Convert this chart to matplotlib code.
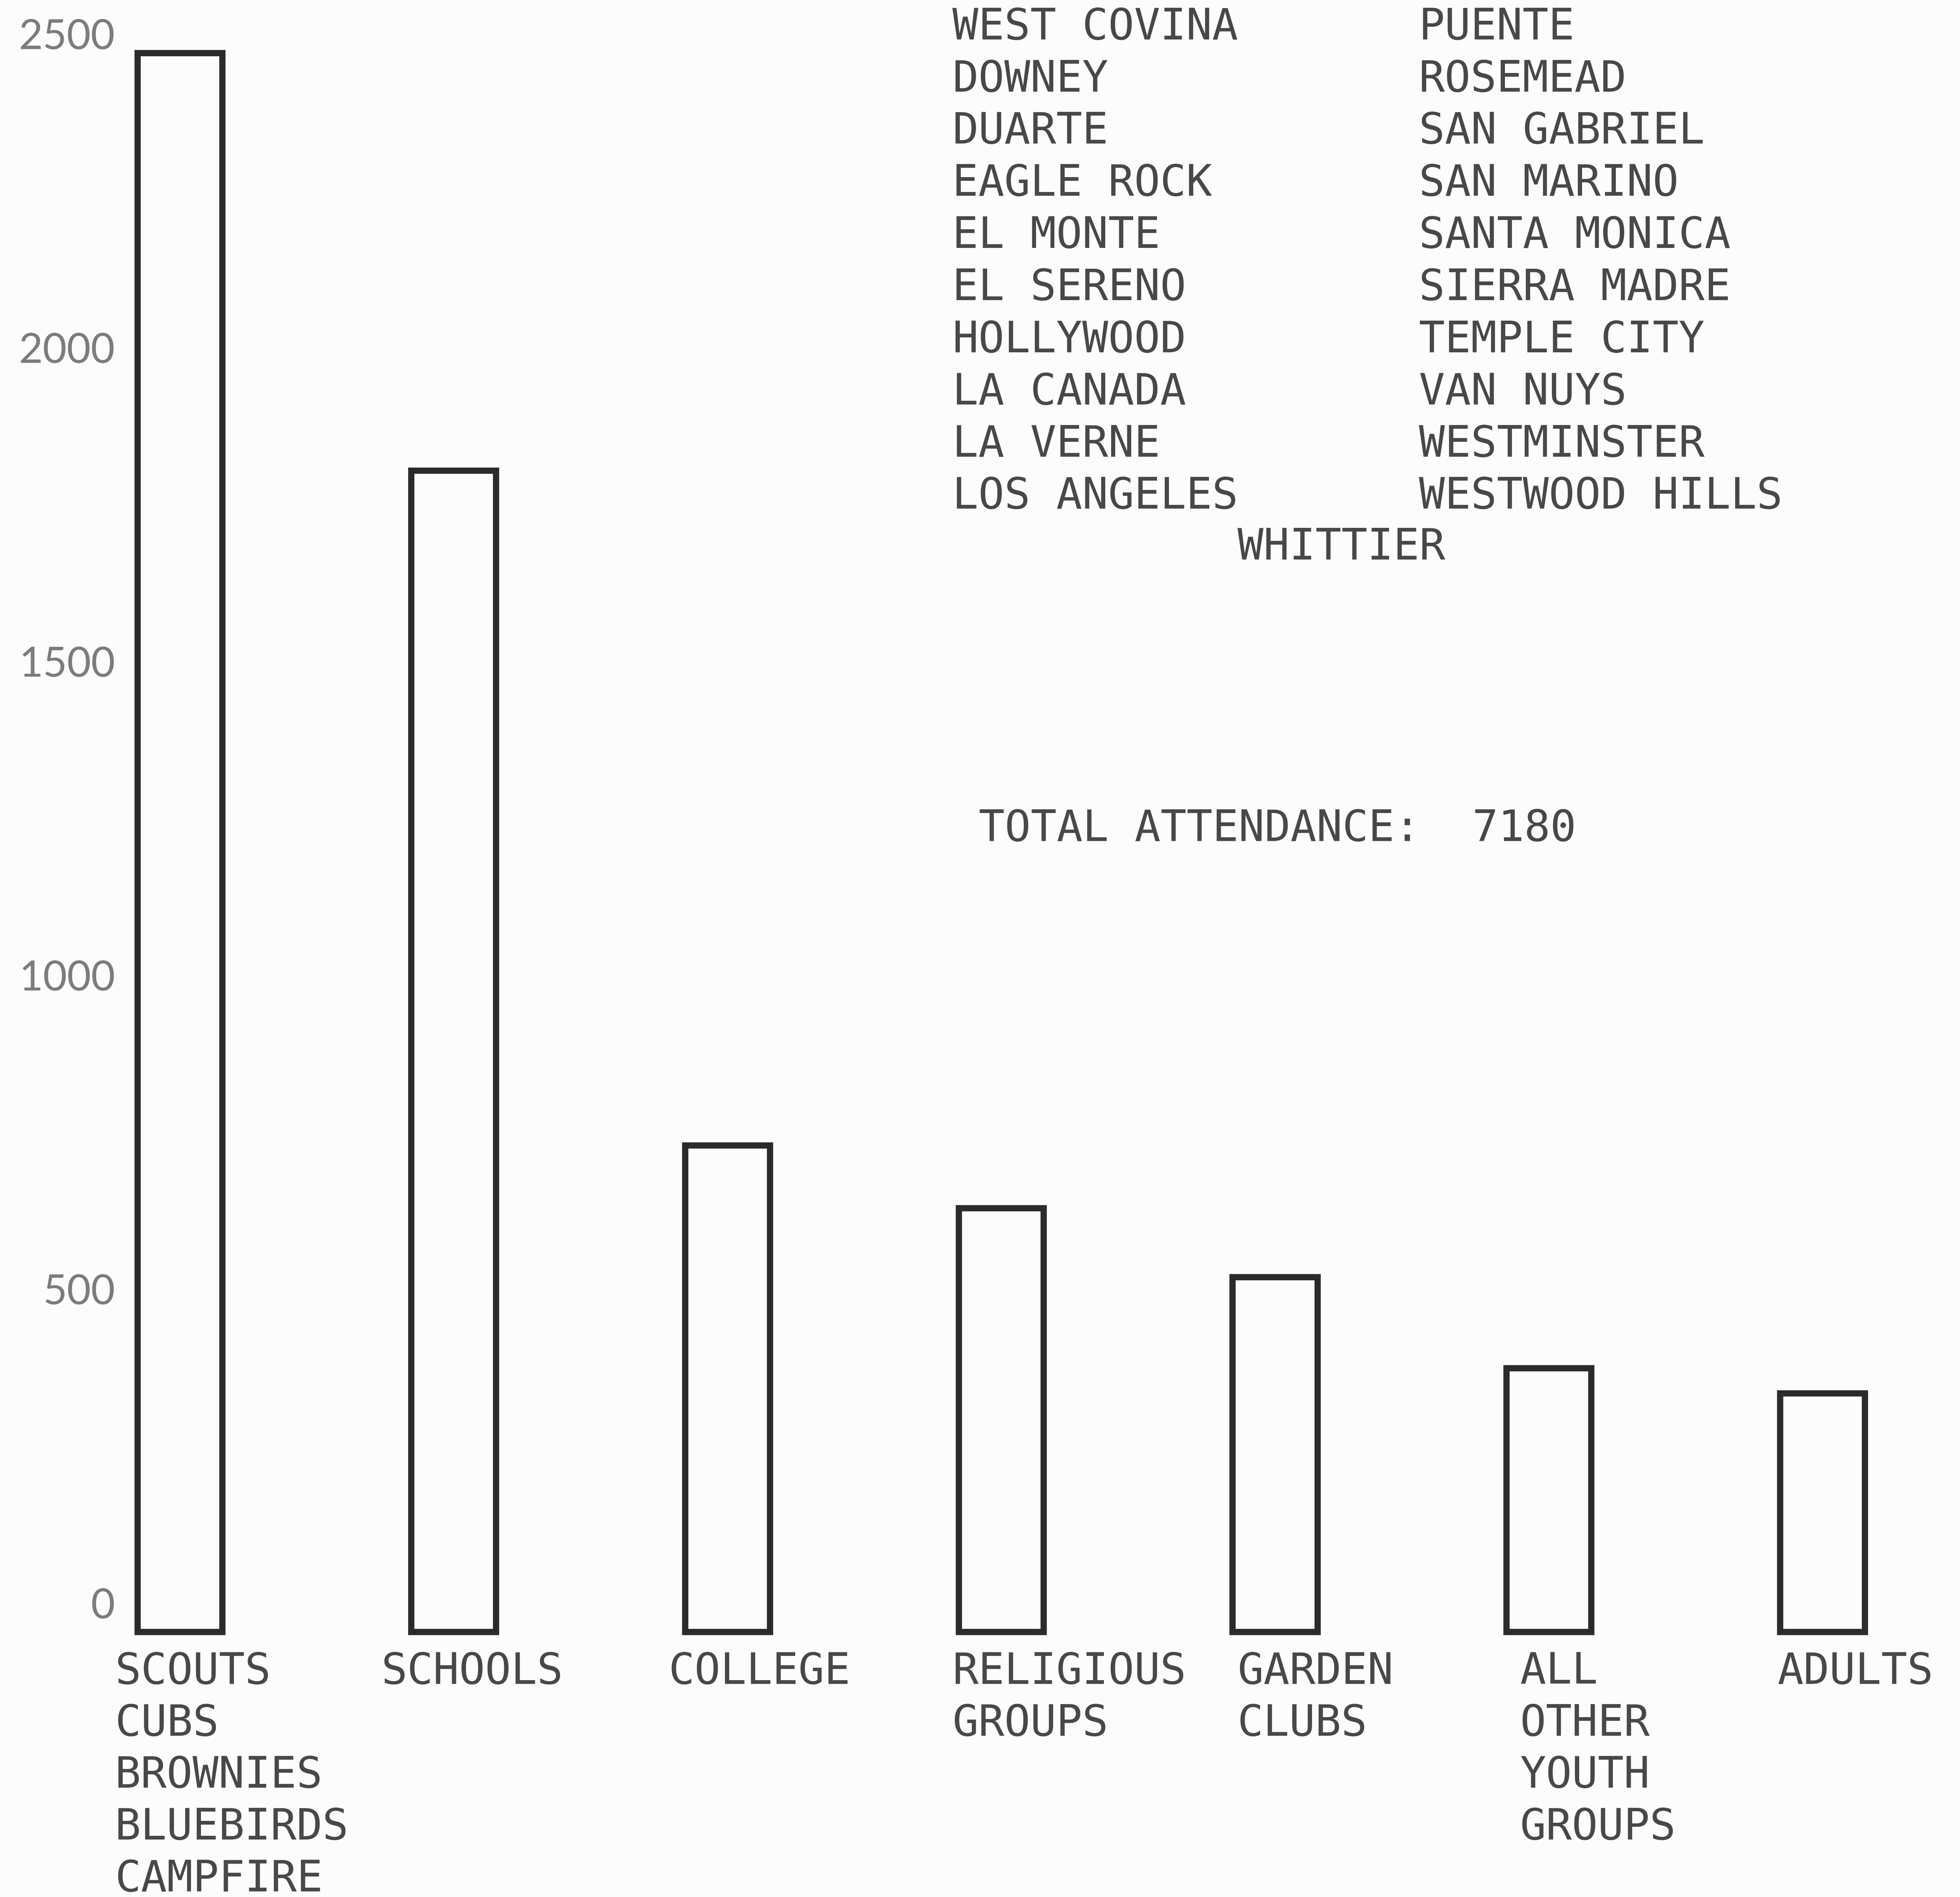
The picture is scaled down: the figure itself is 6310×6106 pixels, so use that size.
import numpy as np
import matplotlib.pyplot as plt
from matplotlib.transforms import ScaledTranslation

# ---------- data ----------
categories = [
    "SCOUTS\nCUBS\nBROWNIES\nBLUEBIRDS\nCAMPFIRE",
    "SCHOOLS",
    "COLLEGE",
    "RELIGIOUS\nGROUPS",
    "GARDEN\nCLUBS",
    "ALL\nOTHER\nYOUTH\nGROUPS",
    "ADULTS",
]
attendance = [2515, 1850, 775, 675, 565, 420, 380]
total_attendance = 7180
yticks = [0, 500, 1000, 1500, 2000, 2500]

cities_left = ["WEST COVINA", "DOWNEY", "DUARTE", "EAGLE ROCK", "EL MONTE",
               "EL SERENO", "HOLLYWOOD", "LA CANADA", "LA VERNE", "LOS ANGELES"]
cities_right = ["PUENTE", "ROSEMEAD", "SAN GABRIEL", "SAN MARINO", "SANTA MONICA",
                "SIERRA MADRE", "TEMPLE CITY", "VAN NUYS", "WESTMINSTER", "WESTWOOD HILLS"]
city_last = "WHITTIER"

# ---------- figure ----------
W, H = 1568, 1517          # reference preview size, used for layout
DPI = 400
fig = plt.figure(figsize=(6310 / DPI, 6106 / DPI), dpi=DPI, facecolor="#fcfcfc")

def fx(px):
    return px / W

def fy(py):
    return 1 - py / H

ax = fig.add_axes([0.00804, 0.13975, 0.9847, 0.857])
ax.set_xlim(-0.6, 6.45)
ax.set_ylim(0, 2590)
ax.axis("off")

typewriter = dict(family="DejaVu Sans Mono", fontsize=25, color="#484848")
bar_w = 0.31

x = np.arange(len(categories))
ax.bar(x, attendance, width=bar_w, facecolor="none", edgecolor="#2b2b2b",
       linewidth=3.6, clip_on=False)

# y tick labels (hand lettered, sit a little above their level)
off = ScaledTranslation(0, 0.11, fig.dpi_scale_trans)
for v in yticks:
    ax.text(-0.237, v, str(v), ha="right", va="baseline", fontsize=24,
            family="Lato", color="#7c7c7c",
            transform=ax.transData + off, clip_on=False)

# category labels under bars (typed, so left edges wander a little)
label_left_px = [92, 305, 535, 762, 990, 1216, 1422]
line_step = 41.5
for lab, lx in zip(categories, label_left_px):
    for j, line in enumerate(lab.split("\n")):
        fig.text(fx(lx), fy(1334 + 12.5 + j * line_step), line,
                 ha="left", va="baseline", **typewriter)

# city list
for j, (a, b) in enumerate(zip(cities_left, cities_right)):
    yy = fy(19 + 12.5 + j * 41.7)
    fig.text(fx(762), yy, a, ha="left", va="baseline", **typewriter)
    fig.text(fx(1135), yy, b, ha="left", va="baseline", **typewriter)
fig.text(fx(990), fy(435 + 12.5), city_last, ha="left", va="baseline", **typewriter)

fig.text(fx(783), fy(660 + 12.5), f"TOTAL ATTENDANCE:  {total_attendance}",
         ha="left", va="baseline", **typewriter)

fig.savefig("out.png", dpi=DPI, facecolor=fig.get_facecolor())
